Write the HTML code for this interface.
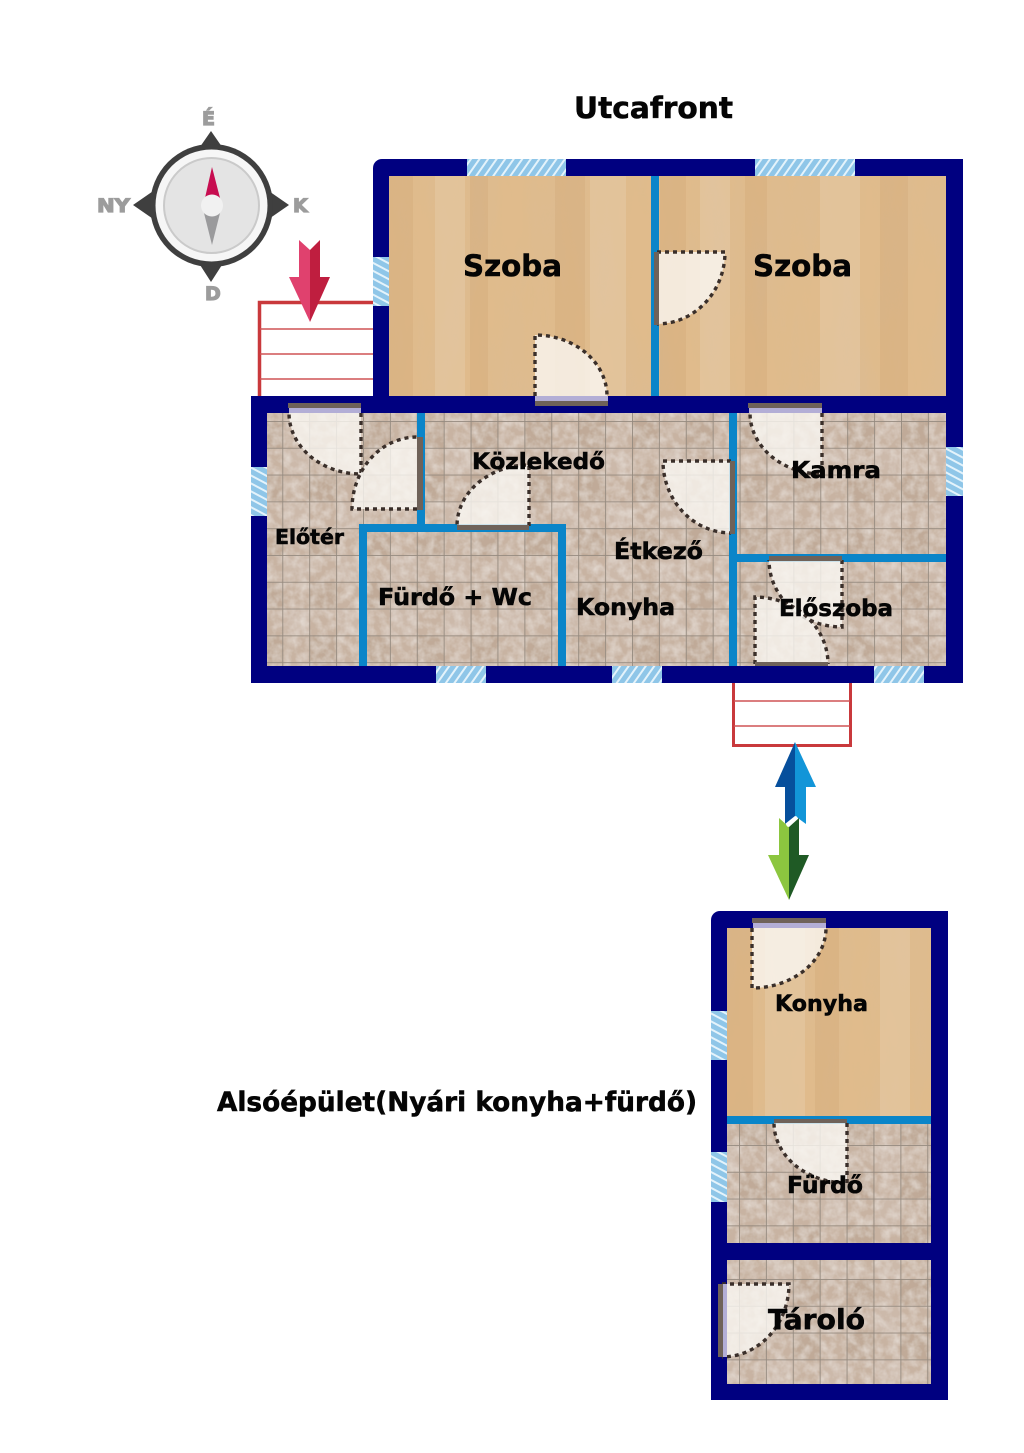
<!DOCTYPE html>
<html><head><meta charset="utf-8"><style>
html,body{margin:0;padding:0;background:#fff}
svg{display:block}
text{font-family:"DejaVu Sans","Liberation Sans",sans-serif;font-weight:bold;fill:#050505;stroke:#050505;stroke-width:.55}
.d{stroke:#3a2f2a;stroke-width:3.4;stroke-dasharray:4 4;fill:#faf7f3;fill-opacity:.8}
.b{fill:#6f6259}
.l{fill:#b3aed6}
.s{fill:none;stroke:#c9393c}
</style></head><body>
<svg width="1024" height="1453" viewBox="0 0 1024 1453" xmlns="http://www.w3.org/2000/svg">
<defs>
<filter id="wood" x="0" y="0" width="100%" height="100%">
<feTurbulence type="fractalNoise" baseFrequency="0.03 0.006" numOctaves="4" seed="11" result="n"/>
<feColorMatrix in="n" type="matrix" values="0 0 0 0 .70  0 0 0 0 .50  0 0 0 0 .30  1.1 0 0 0 -.42" result="c"/>
<feComposite in="c" in2="SourceAlpha" operator="in" result="cc"/>
<feMerge><feMergeNode in="SourceGraphic"/><feMergeNode in="cc"/></feMerge>
</filter>
<filter id="grain" x="0" y="0" width="100%" height="100%">
<feTurbulence type="fractalNoise" baseFrequency="0.11" numOctaves="3" seed="3" result="n"/>
<feColorMatrix in="n" type="matrix" values="0 0 0 0 .90  0 0 0 0 .86  0 0 0 0 .82  .9 0 0 0 -.3" result="c"/>
<feComposite in="c" in2="SourceAlpha" operator="in" result="cc"/>
<feMerge><feMergeNode in="SourceGraphic"/><feMergeNode in="cc"/></feMerge>
</filter>
<pattern id="t1" patternUnits="userSpaceOnUse" x="282.3" y="421" width="53.8" height="53.6">
<rect width="53.8" height="53.6" fill="#c8b3a2"/>
<rect x="26.9" width="26.9" height="26.8" fill="#c0aa98"/>
<rect y="26.8" width="26.9" height="26.8" fill="#ccb9aa"/>
</pattern>
<pattern id="g1" patternUnits="userSpaceOnUse" x="282.3" y="421" width="26.9" height="26.8">
<path d="M0 0H26.9M0 0V26.8" stroke="#958a7f" stroke-width="1.8" fill="none"/>
</pattern>
<pattern id="g2" patternUnits="userSpaceOnUse" x="739" y="1145" width="26.9" height="26.8">
<path d="M0 0H26.9M0 0V26.8" stroke="#958a7f" stroke-width="1.8" fill="none"/>
</pattern>
<pattern id="g3" patternUnits="userSpaceOnUse" x="739" y="1279" width="26.9" height="26.8">
<path d="M0 0H26.9M0 0V26.8" stroke="#958a7f" stroke-width="1.8" fill="none"/>
</pattern>
<pattern id="hv" patternUnits="userSpaceOnUse" width="7" height="7" patternTransform="rotate(-55)">
<rect width="7" height="7" fill="#8fc6e8"/><rect y="0" width="7" height="2" fill="#e4f3fb"/>
</pattern>
<pattern id="hs" patternUnits="userSpaceOnUse" width="7" height="7" patternTransform="rotate(28)">
<rect width="7" height="7" fill="#8fc6e8"/><rect y="0" width="7" height="2" fill="#e4f3fb"/>
</pattern>
</defs>
<rect width="1024" height="1453" fill="#fff"/>

<!-- compass -->
<g>
<path d="M211 131L229 157H193Z M133 205L159 187V223Z M289 205L263 187V223Z M211 282L193 254H229Z" fill="#3f3f3f"/>
<circle cx="211.500" cy="205.500" r="61.500" fill="#3f3f3f"/>
<circle cx="211.500" cy="205.500" r="56" fill="#f6f6f6"/>
<circle cx="211.500" cy="205.500" r="47.500" fill="#e4e4e4" stroke="#cacaca" stroke-width="2"/>
<path d="M212 167L220 198H205Z" fill="#c70d50"/>
<path d="M212 245L204 213H220Z" fill="#9a9a9c"/>
<circle cx="212" cy="205.500" r="11" fill="#f1f1f1"/>
<text x="202" y="125" font-size="19" style="fill:#9c9c9c;stroke:#9c9c9c;stroke-width:1.200">É</text>
<text x="97" y="212" font-size="19" style="fill:#9c9c9c;stroke:#9c9c9c;stroke-width:1.200" textLength="33" lengthAdjust="spacingAndGlyphs">NY</text>
<text x="293" y="212" font-size="19" style="fill:#9c9c9c;stroke:#9c9c9c;stroke-width:1.200">K</text>
<text x="205" y="300" font-size="19" style="fill:#9c9c9c;stroke:#9c9c9c;stroke-width:1.200">D</text>
</g>

<!-- stairs -->
<rect class="s" x="259.500" y="302.500" width="120" height="100" stroke-width="3.500"/>
<path d="M260 329H375M260 354H375M260 379H375" stroke="#cf5355" stroke-width="1.500" fill="none"/>
<rect class="s" x="733.500" y="670" width="117" height="75.500" stroke-width="3"/>
<path d="M734 701H850M734 726H850" stroke="#cf5355" stroke-width="1.500" fill="none"/>

<!-- walls -->
<path d="M382 159H963V409H373V168A9 9 0 0 1 382 159Z" fill="#000080"/>
<rect x="251" y="396" width="712" height="287" fill="#000080"/>
<path d="M720 911H948V1400H711V920A9 9 0 0 1 720 911Z" fill="#000080"/>

<!-- floors -->
<g filter="url(#wood)">
<rect x="389" y="176" width="557" height="220" fill="#e0bb8c"/>
<rect x="727" y="928" width="204" height="189" fill="#e0bb8c"/>
</g>
<g fill="#b98a55" fill-opacity=".13">
<rect x="389" y="176" width="24" height="220"/><rect x="470" y="176" width="18" height="220"/>
<rect x="555" y="176" width="30" height="220"/><rect x="660" y="176" width="26" height="220"/>
<rect x="745" y="176" width="22" height="220"/><rect x="880" y="176" width="28" height="220"/>
<rect x="727" y="928" width="26" height="189"/><rect x="815" y="928" width="24" height="189"/>
</g>
<g fill="#ffffff" fill-opacity=".12">
<rect x="435" y="176" width="30" height="220"/><rect x="590" y="176" width="36" height="220"/>
<rect x="700" y="176" width="30" height="220"/><rect x="820" y="176" width="40" height="220"/>
<rect x="765" y="928" width="40" height="189"/><rect x="880" y="928" width="30" height="189"/>
</g>
<g filter="url(#grain)">
<rect x="267" y="413" width="679" height="253" fill="url(#t1)"/>
<rect x="727" y="1124" width="204" height="119" fill="url(#t1)"/>
<rect x="727" y="1260" width="204" height="124" fill="url(#t1)"/>
</g>
<rect x="267" y="413" width="679" height="253" fill="url(#g1)"/>
<rect x="727" y="1124" width="204" height="119" fill="url(#g2)"/>
<rect x="727" y="1260" width="204" height="124" fill="url(#g3)"/>

<!-- inner walls -->
<g fill="#0a85c9">
<rect x="651" y="176" width="8" height="220"/>
<rect x="417" y="413" width="8" height="115"/>
<rect x="359" y="524" width="207" height="8"/>
<rect x="359" y="524" width="8" height="142"/>
<rect x="558" y="524" width="8" height="142"/>
<rect x="729" y="413" width="8" height="253"/>
<rect x="733" y="554" width="213" height="8"/>
<rect x="727" y="1116" width="204" height="8"/>
</g>

<!-- windows -->
<rect x="467" y="159" width="99" height="17" fill="url(#hv)"/>
<rect x="755" y="159" width="100" height="17" fill="url(#hv)"/>
<rect x="436" y="666" width="50" height="17" fill="url(#hv)"/>
<rect x="612" y="666" width="50" height="17" fill="url(#hv)"/>
<rect x="874" y="666" width="50" height="17" fill="url(#hv)"/>
<rect x="373" y="257" width="16" height="49" fill="url(#hs)"/>
<rect x="251" y="467" width="16" height="49" fill="url(#hs)"/>
<rect x="946" y="447" width="17" height="49" fill="url(#hs)"/>
<rect x="711" y="1011" width="16" height="49" fill="url(#hs)"/>
<rect x="711" y="1152" width="16" height="50" fill="url(#hs)"/>

<!-- doors -->
<path class="d" d="M535 396L535 335A72 61 0 0 1 607 396"/>
<rect class="l" x="535" y="396" width="73" height="6"/><rect class="b" x="535" y="401" width="73" height="5"/>
<path class="d" d="M657 252L725 252A68 72 0 0 1 657 324"/>
<rect class="b" x="654" y="252" width="5" height="73"/>
<path class="d" d="M361 413L361 474A72 61 0 0 1 289 413"/>
<rect class="l" x="289" y="408" width="72" height="5"/><rect class="b" x="288" y="403" width="73" height="5"/>
<path class="d" d="M417 509L352 509A65 72 0 0 1 417 437"/>
<rect class="b" x="417" y="437" width="6" height="73"/>
<path class="d" d="M529 526L529 465A72 61 0 0 0 457 526"/>
<rect class="b" x="457" y="525" width="72" height="5"/>
<path class="d" d="M731 461L663 461A68 72 0 0 0 731 533"/>
<rect class="b" x="730" y="461" width="5" height="73"/>
<path class="d" d="M822 413L822 474A72 61 0 0 1 750 413"/>
<rect class="l" x="749" y="408" width="73" height="5"/><rect class="b" x="748" y="403" width="74" height="5"/>
<path class="d" d="M842 560L842 627A73 67 0 0 1 769 560"/>
<rect class="b" x="769" y="556" width="73" height="5"/>
<path class="d" d="M755 664L755 597A73 67 0 0 1 828 664"/>
<rect class="b" x="755" y="662" width="73" height="4"/>
<path class="d" d="M752 928L752 988A74 60 0 0 0 826 928"/>
<rect class="l" x="753" y="923" width="73" height="5"/><rect class="b" x="752" y="918" width="74" height="5"/>
<path class="d" d="M847 1123L847 1183A73 60 0 0 1 774 1123"/>
<rect class="b" x="774" y="1119" width="73" height="4"/>
<path class="d" d="M722 1284L789 1284A67 73 0 0 1 722 1357"/>
<rect class="l" x="722" y="1284" width="5" height="73"/><rect class="b" x="718" y="1284" width="5" height="73"/>

<!-- arrows -->
<path d="M310 250L299 240V277H289L310 322Z" fill="#e0416e"/>
<path d="M310 250L320 240V277H330L310 322Z" fill="#bf1e3f"/>
<path d="M795 742L775 787H785V824L795 816Z" fill="#064f9c"/>
<path d="M795 742L816 787H806V824L795 816Z" fill="#1295d8"/>
<path d="M789 827L779 818V855H768L789 900Z" fill="#8cc63f"/>
<path d="M789 827L799 818V855H809L789 900Z" fill="#1f5a25"/>
<path d="M787 826L797 817" stroke="#fff" stroke-width="3" fill="none"/>

<!-- labels -->
<text x="574" y="118" font-size="29.500" textLength="159" lengthAdjust="spacingAndGlyphs">Utcafront</text>
<text x="463" y="276" font-size="29" textLength="99" lengthAdjust="spacingAndGlyphs">Szoba</text>
<text x="753" y="276" font-size="29" textLength="99" lengthAdjust="spacingAndGlyphs">Szoba</text>
<text x="472" y="469" font-size="22.500" textLength="133" lengthAdjust="spacingAndGlyphs">Közlekedő</text>
<text x="275" y="544" font-size="20" textLength="69" lengthAdjust="spacingAndGlyphs">Előtér</text>
<text x="378" y="605" font-size="23" textLength="154" lengthAdjust="spacingAndGlyphs">Fürdő + Wc</text>
<text x="576" y="615" font-size="23" textLength="99" lengthAdjust="spacingAndGlyphs">Konyha</text>
<text x="614" y="559" font-size="23" textLength="89" lengthAdjust="spacingAndGlyphs">Étkező</text>
<text x="791" y="478" font-size="23" textLength="90" lengthAdjust="spacingAndGlyphs">Kamra</text>
<text x="779" y="616" font-size="23" textLength="114" lengthAdjust="spacingAndGlyphs">Előszoba</text>
<text x="775" y="1011" font-size="22" textLength="93" lengthAdjust="spacingAndGlyphs">Konyha</text>
<text x="787" y="1193" font-size="23" textLength="76" lengthAdjust="spacingAndGlyphs">Fürdő</text>
<text x="768" y="1329" font-size="28" textLength="97" lengthAdjust="spacingAndGlyphs">Tároló</text>
<text x="217" y="1111" font-size="27" textLength="480" lengthAdjust="spacingAndGlyphs">Alsóépület(Nyári konyha+fürdő)</text>
</svg>
</body></html>
